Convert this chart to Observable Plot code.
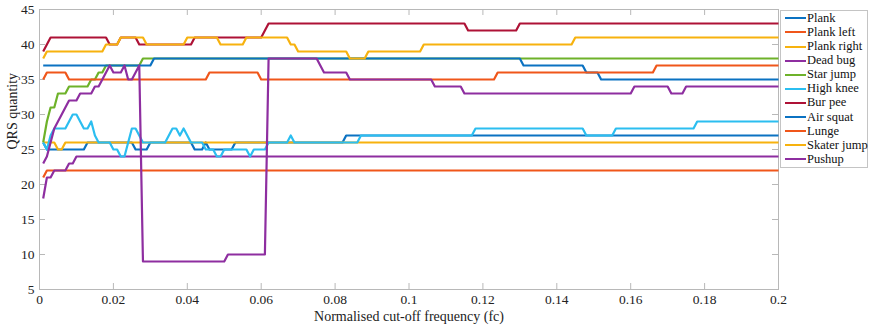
<!DOCTYPE html>
<html><head><meta charset="utf-8">
<script src="https://cdn.jsdelivr.net/npm/d3@7"></script>
<script src="https://cdn.jsdelivr.net/npm/@observablehq/plot@0.6"></script>
<style>
body{margin:0;background:#fff;}
#wrap{position:relative;width:871px;height:329px;}
#legend{position:absolute;left:780px;top:10px;width:88px;height:158px;border:1px solid #c4c4c4;box-sizing:border-box;background:#fff;font:12.5px "Liberation Serif","Times New Roman",serif;color:#111;}
.item{position:absolute;left:4px;height:14px;display:flex;align-items:center;white-space:nowrap;}
.sw{width:21px;height:2px;margin-right:1px;}
</style></head><body><div id="wrap"></div>
<script>
// fc, QRS quantity sample points (run start/end points of each step)
const plank      = [[0.001,26],[0.002,25],[0.012,25],[0.013,26],[0.025,26],[0.026,25],[0.029,25],[0.030,26],[0.041,26],[0.042,25],[0.044,25],[0.045,26],[0.046,25],[0.052,25],[0.053,26],[0.082,26],[0.083,27],[0.200,27]];
const plankLeft  = [[0.001,21],[0.002,22],[0.200,22]];
const plankRight = [[0.001,26],[0.004,26],[0.005,25],[0.006,25],[0.007,26],[0.200,26]];
const deadBug    = [[0.001,18],[0.002,21],[0.003,21],[0.004,22],[0.007,22],[0.008,23],[0.009,23],[0.010,24],[0.200,24]];
const starJump   = [[0.001,26],[0.002,29],[0.003,31],[0.004,31],[0.005,33],[0.007,33],[0.008,34],[0.013,34],[0.014,35],[0.015,35],[0.016,36],[0.017,36],[0.018,37],[0.027,37],[0.028,38],[0.200,38]];
const highKnee   = [[0.001,26],[0.002,25],[0.003,27],[0.004,28],[0.007,28],[0.008,29],[0.009,30],[0.010,30],[0.011,29],[0.012,28],[0.013,28],[0.014,29],[0.015,27],[0.016,26],[0.019,26],[0.020,25],[0.021,25],[0.022,24],[0.023,24],[0.024,26],[0.025,28],[0.026,28],[0.027,27],[0.028,26],[0.034,26],[0.035,27],[0.036,28],[0.037,28],[0.038,27],[0.039,28],[0.040,27],[0.041,26],[0.044,26],[0.045,25],[0.047,25],[0.048,24],[0.049,24],[0.050,25],[0.056,25],[0.057,24],[0.058,25],[0.061,25],[0.062,26],[0.067,26],[0.068,27],[0.069,26],[0.086,26],[0.087,27],[0.117,27],[0.118,28],[0.147,28],[0.148,27],[0.155,27],[0.156,28],[0.177,28],[0.178,29],[0.200,29]];
const burPee     = [[0.001,39],[0.002,40],[0.003,41],[0.018,41],[0.019,40],[0.021,40],[0.022,41],[0.026,41],[0.027,40],[0.041,40],[0.042,41],[0.060,41],[0.061,42],[0.062,43],[0.115,43],[0.116,42],[0.129,42],[0.130,43],[0.200,43]];
const airSquat   = [[0.001,37],[0.030,37],[0.031,38],[0.130,38],[0.131,37],[0.147,37],[0.148,36],[0.151,36],[0.152,35],[0.200,35]];
const lunge      = [[0.001,35],[0.002,36],[0.007,36],[0.008,35],[0.045,35],[0.046,36],[0.059,36],[0.060,35],[0.123,35],[0.124,36],[0.166,36],[0.167,37],[0.200,37]];
const skaterJump = [[0.001,38],[0.002,39],[0.017,39],[0.018,40],[0.021,40],[0.022,41],[0.028,41],[0.029,40],[0.039,40],[0.040,41],[0.048,41],[0.049,40],[0.055,40],[0.056,41],[0.067,41],[0.068,40],[0.069,40],[0.070,39],[0.083,39],[0.084,38],[0.088,38],[0.089,39],[0.103,39],[0.104,40],[0.144,40],[0.145,41],[0.200,41]];
const pushup     = [[0.001,23],[0.002,24],[0.003,26],[0.004,28],[0.005,29],[0.006,30],[0.007,31],[0.008,32],[0.010,32],[0.011,33],[0.014,33],[0.015,34],[0.016,34],[0.017,35],[0.018,36],[0.019,37],[0.020,36],[0.022,36],[0.023,37],[0.024,35],[0.025,35],[0.026,36],[0.027,37],[0.028,9],[0.050,9],[0.051,10],[0.061,10],[0.062,38],[0.075,38],[0.076,37],[0.077,36],[0.083,36],[0.084,35],[0.106,35],[0.107,34],[0.114,34],[0.115,33],[0.160,33],[0.161,34],[0.170,34],[0.171,33],[0.174,33],[0.175,34],[0.200,34]];

const seriesNames = ["Plank","Plank left","Plank right","Dead bug","Star jump","High knee","Bur pee","Air squat","Lunge","Skater jump","Pushup"];
const seriesData  = [plank, plankLeft, plankRight, deadBug, starJump, highKnee, burPee, airSquat, lunge, skaterJump, pushup];
const seriesColors = ["#0B72C2","#F0561A","#F7B20E","#8E2EA0","#6EB22A","#2BBEF0","#AE1236","#0B72C2","#F0561A","#F7B20E","#8E2EA0"];

const xTicks = [0,0.02,0.04,0.06,0.08,0.1,0.12,0.14,0.16,0.18,0.2];
const yTicks = [5,10,15,20,25,30,35,40,45];
const xTitle = "Normalised cut-off frequency (fc)";
const yTitle = "QRS quantity";

const W = 871, H = 329, mL = 39, mR = 93, mT = 9, mB = 40;
const fw = W - mL - mR, fh = H - mT - mB, tk = 6;
const axisColor = "#b8b8b8";

const lines = seriesData.map((d, i) => Plot.line(d, {
  x: p => p[0], y: p => p[1], stroke: seriesColors[i], strokeWidth: 2.2,
  strokeLinejoin: "round", strokeLinecap: "butt"
}));

const chart = Plot.plot({
  width: W, height: H,
  marginLeft: mL, marginRight: mR, marginTop: mT, marginBottom: mB,
  style: {fontFamily: "'Liberation Serif','Times New Roman',serif", fontSize: "13px", background: "#fff", color: "#222"},
  x: {domain: [0, 0.2]},
  y: {domain: [5, 45]},
  marks: [
    Plot.frame({stroke: axisColor}),
    Plot.tickX(xTicks, {x: d => d, insetTop: fh - tk, stroke: axisColor}),
    Plot.tickX(xTicks, {x: d => d, insetBottom: fh - tk, stroke: axisColor}),
    Plot.tickY(yTicks, {y: d => d, insetRight: fw - tk, stroke: axisColor}),
    Plot.tickY(yTicks, {y: d => d, insetLeft: fw - tk, stroke: axisColor}),
    Plot.axisX({ticks: xTicks, tickSize: 0, tickPadding: 5, tickFormat: d => String(d), label: null, fontSize: 13.5, fill: "#222"}),
    Plot.axisY({ticks: yTicks, tickSize: 0, tickPadding: 5, tickFormat: d => String(d), label: null, fontSize: 13.5, fill: "#222"}),
    Plot.text([xTitle], {text: d => d, frameAnchor: "bottom", dy: 31, fontSize: 14, fill: "#222"}),
    Plot.text([yTitle], {text: d => d, frameAnchor: "left", rotate: -90, dx: -27, fontSize: 14, fill: "#222"}),
    ...lines
  ]
});

const wrap = document.getElementById("wrap");
wrap.appendChild(chart);
const legend = document.createElement("div");
legend.id = "legend";
seriesNames.forEach((name, i) => {
  const item = document.createElement("div");
  item.className = "item";
  item.style.top = (0.3 + i * 14.1) + "px";
  const sw = document.createElement("span");
  sw.className = "sw";
  sw.style.background = seriesColors[i];
  const t = document.createElement("span");
  t.textContent = name;
  item.appendChild(sw); item.appendChild(t);
  legend.appendChild(item);
});
wrap.appendChild(legend);
</script></body></html>
